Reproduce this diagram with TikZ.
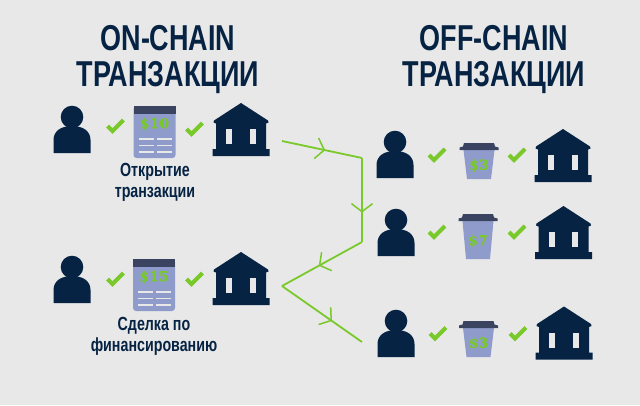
\documentclass[tikz,border=0pt]{standalone}
\usepackage{fontspec}
\setmainfont{Liberation Sans}
\newfontfamily\headfont[FakeStretch=0.75]{Liberation Sans}
\newfontfamily\notefont[FakeStretch=0.75]{Liberation Sans}
\newfontfamily\pricefont[BoldFeatures={FakeBold=0.6}]{DejaVu Serif}
\usetikzlibrary{arrows.meta, decorations.markings}
\definecolor{navy}{HTML}{062343}
\definecolor{leaf}{HTML}{7AC92B}
\definecolor{paper}{HTML}{E8E8E8}
\definecolor{lilac}{HTML}{8F9CCB}
\definecolor{slate}{HTML}{3A4460}
\tikzset{
  pics/person/.style={code={
    \fill[navy] (0,-36) circle (11.3);
    \fill[navy] (-18.5,0) -- (-18.5,-13) .. controls (-18.5,-22) and (-11,-27) .. (0,-27)
      .. controls (11,-27) and (18.5,-22) .. (18.5,-13) -- (18.5,0) -- cycle;
  }},
  pics/bank/.style={code={
    \fill[navy] (0,-53) -- (27,-35.5) -- (27.5,-33.5) -- (25,-32.5) -- (25,-7) -- (28.5,-7) -- (28.5,0)
      -- (-28.5,0) -- (-28.5,-7) -- (-25,-7) -- (-25,-32.5) -- (-27.5,-33.5) -- (-27,-35.5) -- cycle;
    \fill[paper] (-14.7,-27) rectangle (-8.7,-12);
    \fill[paper] (8.7,-27) rectangle (14.7,-12);
  }},
  pics/tick/.style={code={
    \draw[leaf, line width=4.2pt] (-8,0) -- (-3,5) -- (8,-6);
  }},
  pics/bill/.style={code={
    \fill[lilac, rounded corners=3pt] (-21,0) -- (21,0) -- (21,52) -- (-21,52) -- cycle;
    \fill[slate] (-21,0) rectangle (21,8);
    \node[price] (-amount) at (0,18) {\$#1};
    \foreach \rowy in {33,39.5,46} {
      \draw[paper, line width=1.6pt] (-16,\rowy) -- (-1,\rowy);
      \draw[paper, line width=1.6pt] (2,\rowy) -- (17,\rowy);
    }
  }},
  pics/cup/.style 2 args={code={
    \fill[lilac] (-15.5,0) -- (15.5,0) -- (12,#1) -- (-12,#1) -- cycle;
    \fill[slate] (-19.5,0) -- (-19.5,-2.5) -- (-16,-3.5) -- (-15,-7) -- (15,-7) -- (16,-3.5)
      -- (19.5,-2.5) -- (19.5,0) -- cycle;
    \node[price] (-amount) at (0,#1/2+1) {\$#2};
  }},
  price/.style={text=leaf, font=\pricefont\bfseries\fontsize{14}{14}\selectfont, inner sep=0pt},
  heading/.style={text=navy, align=center, font=\headfont\bfseries\fontsize{36}{36.5}\selectfont},
  note/.style={text=navy, align=center, font=\notefont\bfseries\fontsize{19}{20.5}\selectfont},
  flow/.style={draw=leaf, line width=1.8pt, postaction={decorate}, decoration={markings,
    mark=at position #1 with {\arrow[leaf]{Straight Barb[length=8pt,width=21pt,line width=1.5pt]}}}}
}
\begin{document}
\begin{tikzpicture}[x=1pt, y=-1pt]
  \fill[paper] (0,0) rectangle (640,405);
  \useasboundingbox (0,0) rectangle (640,405);

  \node[heading] (onchain) at (168,59.5) {ON-CHAIN\\ТРАНЗАКЦИИ};
  \node[heading] (offchain) at (494,59.5) {OFF-CHAIN\\ТРАНЗАКЦИИ};

  % left side
  \pic (payer1) at (72,153) {person};
  \pic (tick1) at (115.5,126) {tick};
  \pic (bill1) at (154.5,106) {bill=10};
  \pic (tick2) at (194.5,129) {tick};
  \pic (bank1) at (241,156) {bank};
  \node[note] (open) at (155,182.5) {Открытие\\транзакции};

  \pic (payer2) at (72,303) {person};
  \pic (tick3) at (115.5,279) {tick};
  \pic (bill2) at (154,259) {bill=15};
  \pic (tick4) at (194.5,279) {tick};
  \pic (bank2) at (241,305) {bank};
  \node[note] (deal) at (154,336.5) {Сделка по\\финансированию};

  % right side
  \pic (payer3) at (395,178) {person};
  \pic (tick5) at (437,155) {tick};
  \pic (cup1) at (479,150) {cup={29}{3}};
  \pic (tick6) at (517,155) {tick};
  \pic (bank3) at (563,182) {bank};

  \pic (payer4) at (396,256) {person};
  \pic (tick7) at (437,232) {tick};
  \pic (cup2) at (478,221) {cup={38}{7}};
  \pic (tick8) at (517,232) {tick};
  \pic (bank4) at (563.5,259) {bank};

  \pic (payer5) at (396,357) {person};
  \pic (tick9) at (438,333.5) {tick};
  \pic (cup3) at (478.5,328) {cup={29}{3}};
  \pic (tick10) at (518,333.5) {tick};
  \pic (bank5) at (564,359.5) {bank};

  \coordinate (start) at (282,141);
  \coordinate (bendtop) at (362,158);
  \coordinate (bendlow) at (362,242);
  \coordinate (fork) at (282,286);
  \coordinate (finish) at (362,342);
  \path[flow=0.54] (start) -- (bendtop);
  \path[flow=0.65] (bendtop) -- (bendlow);
  \path[flow=0.54] (bendlow) -- (fork);
  \path[flow=0.625] (fork) -- (finish);
\end{tikzpicture}
\end{document}
